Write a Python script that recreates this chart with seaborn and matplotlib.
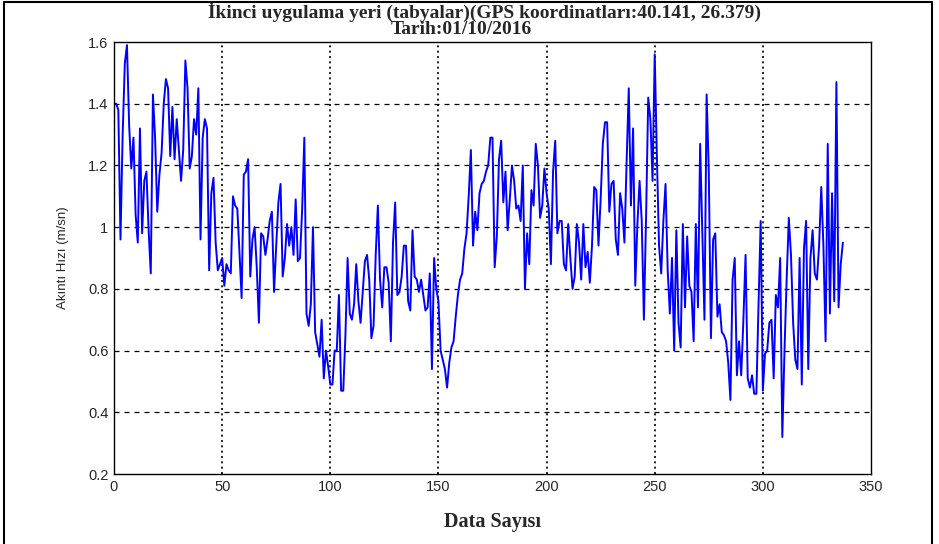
import numpy as np
import pandas as pd
import matplotlib.pyplot as plt
import seaborn as sns
from matplotlib.lines import Line2D

# Akinti hizi (m/sn), data index 0..337
hiz_000_044 = [1.40, 1.40, 1.38, 0.96, 1.30, 1.53, 1.59, 1.33, 1.19, 1.29,
               1.04, 0.95, 1.32, 0.98, 1.15, 1.18, 0.99, 0.85, 1.43, 1.29,
               1.05, 1.17, 1.24, 1.40, 1.48, 1.45, 1.23, 1.39, 1.22, 1.35,
               1.25, 1.15, 1.25, 1.54, 1.45, 1.19, 1.23, 1.35, 1.30, 1.45,
               0.96, 1.29, 1.35, 1.32, 0.86]
hiz_045_083 = [1.11, 1.16, 0.95, 0.86, 0.88, 0.90, 0.81, 0.88, 0.86, 0.85,
               1.10, 1.07, 1.06, 0.92, 0.77, 1.17, 1.18, 1.22, 0.84, 0.96,
               1.00, 0.87, 0.69, 0.98, 0.97, 0.91, 0.96, 1.02, 1.05, 0.79,
               0.94, 1.08, 1.14, 0.84, 0.90, 1.01, 0.94, 1.00, 0.91]
hiz_084_125 = [1.09, 0.89, 0.90, 1.06, 1.29, 0.72, 0.68, 0.75, 1.00, 0.66,
               0.62, 0.58, 0.70, 0.51, 0.60, 0.55, 0.49, 0.49, 0.60, 0.60,
               0.78, 0.47, 0.47, 0.65, 0.90, 0.72, 0.70, 0.75, 0.88, 0.76,
               0.69, 0.79, 0.89, 0.91, 0.83, 0.64, 0.68, 0.91, 1.07, 0.83,
               0.74, 0.87]
hiz_126_165 = [0.87, 0.82, 0.63, 0.95, 1.08, 0.78, 0.79, 0.84, 0.94, 0.94,
               0.76, 0.73, 0.99, 0.84, 0.83, 0.79, 0.83, 0.78, 0.73, 0.74,
               0.85, 0.54, 0.90, 0.80, 0.76, 0.60, 0.57, 0.54, 0.48, 0.56,
               0.61, 0.63, 0.71, 0.78, 0.83, 0.85, 0.93, 0.98, 1.10, 1.25]
hiz_166_208 = [0.94, 1.05, 0.99, 1.11, 1.14, 1.15, 1.18, 1.20, 1.29, 1.29,
               0.87, 0.97, 1.22, 1.28, 1.08, 1.18, 0.99, 1.09, 1.20, 1.15,
               1.06, 1.07, 1.02, 1.20, 0.80, 0.98, 0.88, 1.12, 1.07, 1.27,
               1.20, 1.03, 1.07, 1.19, 1.11, 1.06, 0.88, 1.18, 1.28, 0.98,
               1.02, 1.02, 0.88]
hiz_209_249 = [0.86, 1.01, 0.90, 0.80, 0.84, 1.01, 0.95, 0.83, 1.01, 0.87,
               0.92, 0.82, 0.94, 1.13, 1.12, 0.94, 1.09, 1.27, 1.34, 1.34,
               1.05, 1.14, 1.15, 0.96, 0.91, 1.11, 1.06, 0.95, 1.21, 1.45,
               1.07, 1.32, 0.81, 1.01, 1.15, 1.02, 0.70, 1.03, 1.42, 1.35,
               1.15]
hiz_250_288 = [1.56, 1.23, 0.94, 0.85, 1.02, 1.14, 0.86, 0.72, 0.90, 0.60,
               0.99, 0.69, 0.61, 1.01, 0.74, 0.97, 0.81, 0.79, 0.63, 1.01,
               0.74, 1.27, 0.99, 0.70, 1.43, 1.18, 0.64, 0.96, 0.98, 0.71,
               0.75, 0.66, 0.65, 0.63, 0.56, 0.44, 0.83, 0.90, 0.52]
hiz_289_337 = [0.63, 0.52, 0.70, 0.91, 0.51, 0.48, 0.52, 0.46, 0.46, 0.75,
               1.02, 0.47, 0.59, 0.60, 0.69, 0.70, 0.51, 0.78, 0.74, 0.90,
               0.32, 0.60, 0.83, 1.03, 0.91, 0.69, 0.57, 0.54, 0.90, 0.49,
               0.93, 1.02, 0.54, 0.90, 0.99, 0.85, 0.83, 0.94, 1.13, 0.94,
               0.63, 1.27, 0.72, 1.11, 0.76, 1.47, 0.74, 0.88, 0.95]

x_ticks = [0, 50, 100, 150, 200, 250, 300, 350]
y_ticks = [0.2, 0.4, 0.6, 0.8, 1.0, 1.2, 1.4, 1.6]
y_tick_labels = ["0.2", "0.4", "0.6", "0.8", "1", "1.2", "1.4", "1.6"]

hiz = (hiz_000_044 + hiz_045_083 + hiz_084_125 + hiz_126_165
       + hiz_166_208 + hiz_209_249 + hiz_250_288 + hiz_289_337)
df = pd.DataFrame({"data": np.arange(len(hiz)), "hiz": hiz})

sns.set_style("white")
serif = ["Liberation Serif", "DejaVu Serif"]
sans = ["Liberation Sans", "DejaVu Sans"]

fig = plt.figure(figsize=(9.39, 5.44), dpi=100)
ax = fig.add_axes([114 / 939, 1 - 474 / 544, 757 / 939, 432 / 544])

sns.lineplot(data=df, x="data", y="hiz", color="#0000ff", lw=1.4, ax=ax)

ax.set_xlim(0, 350)
ax.set_ylim(0.2, 1.6)
ax.set_xticks(x_ticks)
ax.set_yticks(y_ticks)
ax.set_yticklabels(y_tick_labels)
for lab in ax.get_xticklabels() + ax.get_yticklabels():
    lab.set_family(sans)
    lab.set_fontsize(10.5)
ax.tick_params(direction="in", length=3, color="k", pad=4)

# MATLAB-like grid
ax.grid(False)
for y in y_ticks[1:-1]:
    ax.axhline(y, color="k", lw=0.9, ls=(0, (4, 4)), zorder=0)
for x in x_ticks[1:-1]:
    ax.axvline(x, color="k", lw=1.2, ls=(0, (1.2, 2)), zorder=0)

for sp in ax.spines.values():
    sp.set_color("k")
    sp.set_linewidth(1.0)

ax.set_xlabel("Data Sayısı", family=serif, fontsize=14.5, fontweight="bold",
              labelpad=13)
ax.set_ylabel("Akıntı Hızı (m/sn)", family=sans, fontsize=9.5, labelpad=14)

fig.text(485 / 939, 1 - 12 / 544,
         "İkinci uygulama yeri (tabyalar)(GPS koordinatları:40.141, 26.379)",
         ha="center", va="center", family=serif, fontsize=14, fontweight="bold")
fig.text(461 / 939, 1 - 30 / 544, "Tarih:01/10/2016",
         ha="center", va="center", family=serif, fontsize=14, fontweight="bold")

# outer frame of the original figure
x0, x1, y1 = 4 / 939, 932 / 939, 1 - 2 / 544
fig.add_artist(Line2D([x0, x0, x1, x1], [0, y1, y1, 0],
                      transform=fig.transFigure, color="k", lw=1.5))

fig.savefig("out.png", dpi=100)
